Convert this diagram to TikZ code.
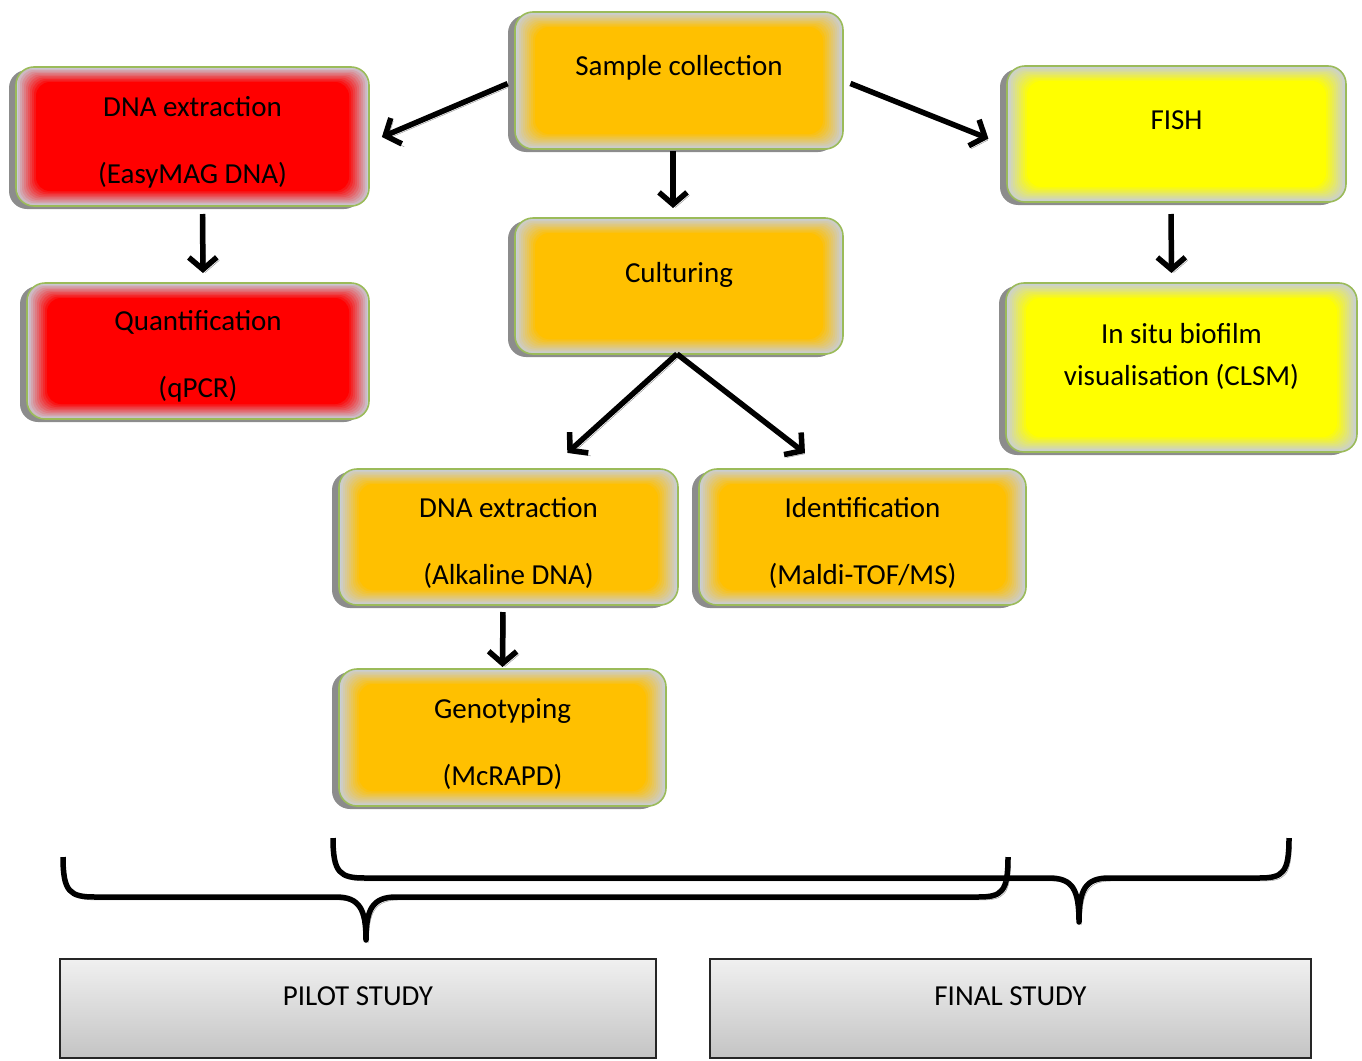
\documentclass[tikz,border=0pt]{standalone}
\usepackage{fontspec}
\setmainfont{Carlito}
\usetikzlibrary{arrows.meta, positioning, shadows}

\definecolor{amber}{HTML}{FFC000}
\definecolor{signal}{HTML}{FF0000}
\definecolor{lemon}{HTML}{FFFF00}
\definecolor{haze}{HTML}{C8CEDA}
\definecolor{leafgreen}{HTML}{9BBB59}
\definecolor{shadowgray}{HTML}{8C8C8C}
\definecolor{studytop}{HTML}{F0F0F0}
\definecolor{studybot}{HTML}{C4C4C4}

\tikzset{
  cardbox/.style={draw=leafgreen, line width=1.6pt, rounded corners=18pt, fill=haze,
    inner sep=0pt, outer sep=0pt,
    drop shadow={shadow xshift=-7pt, shadow yshift=-3pt, fill=shadowgray, opacity=1},
    path picture={
      \foreach \k/\p in {1/10,2/20,3/30,4/40,5/50,6/60,7/70,8/80,9/90,10/100}
        \fill[#1!\p!haze, rounded corners=14pt]
          ([shift={(2*\k,1.5*\k)}]path picture bounding box.north west) rectangle
          ([shift={(-2*\k,-1.5*\k)}]path picture bounding box.south east);
    }},
  studybox/.style={draw=black!85, line width=1.2pt, top color=studytop, bottom color=studybot,
    inner sep=0pt, outer sep=0pt},
  caption/.style={text height=21.75pt, text depth=7.25pt, inner sep=0pt},
  twoline/.style={align=center, inner sep=0pt},
  flow/.style={line width=5.5pt, -{Straight Barb[length=12pt,width=28pt]},
    preaction={draw=shadowgray, transform canvas={shift={(2.5,3)}}}},
  bracket/.style={line width=5.5pt, line join=round,
    preaction={draw=shadowgray, transform canvas={shift={(2.5,3)}}}}
}

\begin{document}
\begin{tikzpicture}[x=1pt, y=-1pt, font=\fontsize{29}{35}\selectfont]
\useasboundingbox (0,0) rectangle (1362,1060);

% method boxes
\node[cardbox=amber, minimum width=328pt, minimum height=137pt] (sample) at (679,80.5) {};
\node[cardbox=signal, minimum width=353pt, minimum height=139pt] (dnaext) at (192.5,136.5) {};
\node[cardbox=signal, minimum width=342pt, minimum height=136pt] (quant) at (198,351) {};
\node[cardbox=amber, minimum width=328pt, minimum height=136pt] (cult) at (679,286) {};
\node[cardbox=lemon, minimum width=339pt, minimum height=136pt] (fish) at (1176.5,134) {};
\node[cardbox=lemon, minimum width=351pt, minimum height=169pt] (insitu) at (1181.5,367.5) {};
\node[cardbox=amber, minimum width=339pt, minimum height=136pt] (alk) at (508.5,537) {};
\node[cardbox=amber, minimum width=327pt, minimum height=136pt] (ident) at (862.5,537) {};
\node[cardbox=amber, minimum width=327pt, minimum height=137pt] (geno) at (502.5,737.5) {};

% box texts
\node[caption] (sampletxt) at ([yshift=12.5pt]sample.center) {Sample collection};
\node[twoline] (dnaexttxt) at ([yshift=-6pt]dnaext.center) {DNA extraction\\[32pt](EasyMAG DNA)};
\node[twoline] (quanttxt) at ([yshift=-5pt]quant.center) {Quantification\\[32pt](qPCR)};
\node[caption] (culttxt) at ([yshift=11pt]cult.center) {Culturing};
\node[caption] (fishtxt) at ([yshift=12pt]fish.center) {FISH};
\node[twoline] (insitutxt) at ([yshift=11.5pt]insitu.center) {In situ biofilm\\[7pt]visualisation (CLSM)};
\node[twoline] (alktxt) at ([yshift=-5.5pt]alk.center) {DNA extraction\\[32pt](Alkaline DNA)};
\node[twoline] (identtxt) at ([yshift=-5.5pt]ident.center) {Identification\\[32pt](Maldi-TOF/MS)};
\node[twoline] (genotxt) at ([yshift=-6.5pt]geno.center) {Genotyping\\[32pt](McRAPD)};

% arrows
\draw[flow, shorten <=8pt, shorten >=14pt] (sample.west) -- ([yshift=-6pt]dnaext.east);
\draw[flow, shorten <=8pt, shorten >=20pt] (sample.east) -- ([yshift=-12pt]fish.west);
\draw[flow, shorten <=2pt, shorten >=10pt] ([xshift=-6pt]sample.south) -- ([xshift=-6pt]cult.north);
\draw[flow, shorten <=8pt, shorten >=10pt] ([xshift=10pt]dnaext.south) -- ([xshift=5pt]quant.north);
\draw[flow, shorten <=12pt, shorten >=10pt] ([xshift=-5.5pt]fish.south) -- ([xshift=-10pt]insitu.north);
\draw[flow, shorten >=24pt] ([xshift=-2pt]cult.south) -- ([xshift=41pt]alk.north);
\draw[flow, shorten >=26pt] ([xshift=-2pt]cult.south) -- ([xshift=-37pt]ident.north);
\draw[flow, shorten <=7pt, shorten >=2pt] ([xshift=-5.5pt]alk.south) -- (geno.north);

% braces
\draw[bracket] (63,857) .. controls (63,892) and (70,897) .. (95,897) -- (336,897)
  .. controls (360,897) and (366,910) .. (366,940)
  .. controls (366,910) and (372,897) .. (396,897) -- (978,897)
  .. controls (1002,897) and (1008,892) .. (1008,857);
\draw[bracket] (333,838) .. controls (333,873) and (340,878) .. (365,878) -- (1049,878)
  .. controls (1073,878) and (1079,890) .. (1079,922)
  .. controls (1079,890) and (1085,878) .. (1109,878) -- (1259,878)
  .. controls (1283,878) and (1289,873) .. (1289,838);

% study boxes
\node[studybox, minimum width=596pt, minimum height=99pt] (pilot) at (358,1008.5) {};
\node[studybox, minimum width=601pt, minimum height=99pt] (final) at (1010.5,1008.5) {};
\node[caption] (pilottxt) at ([yshift=10.5pt]pilot.center) {PILOT STUDY};
\node[caption] (finaltxt) at ([yshift=10.5pt]final.center) {FINAL STUDY};
\end{tikzpicture}
\end{document}
